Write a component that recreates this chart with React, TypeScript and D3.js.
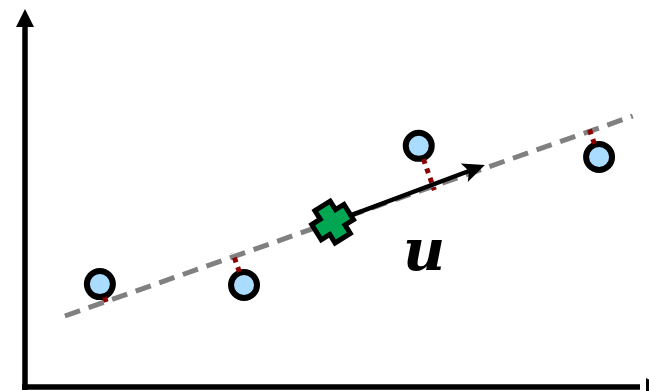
import React from "react";
import * as d3 from "d3";

const W = 649;
const H = 391;

// data points (data units)
const pointX = [1.2, 3.51, 6.31, 9.2];
const pointY = [1.66, 1.645, 3.89, 3.71];
// fitted principal line endpoints
const lineX = [0.64, 9.74];
const lineY = [1.145, 4.37];
// mean (centroid) marker
const meanXY = [4.93, 2.66];
// direction vector u tip
const uTip = [7.37, 3.58];
const uLabel = "u";

export default function App() {
  const x = d3.scaleLinear().domain([0, 10]).range([25, 649]);
  const y = d3.scaleLinear().domain([0, 6]).range([387, 15]);

  const lx0 = x(lineX[0]), ly0 = y(lineY[0]);
  const lx1 = x(lineX[1]), ly1 = y(lineY[1]);
  const dx = lx1 - lx0, dy = ly1 - ly0;
  const len = Math.hypot(dx, dy);
  const ux = dx / len, uy = dy / len;

  const r = 13;
  const proj = pointX.map((px, i) => {
    const cx = x(px), cy = y(pointY[i]);
    const t = (cx - lx0) * ux + (cy - ly0) * uy;
    const qx = lx0 + t * ux, qy = ly0 + t * uy;
    const vx = qx - cx, vy = qy - cy;
    const vl = Math.hypot(vx, vy);
    const nx = vx / vl, ny = vy / vl;
    return {
      cx, cy,
      x1: cx + nx * (r + 1), y1: cy + ny * (r + 1),
      x2: qx + nx * 4, y2: qy + ny * 4,
    };
  });

  const mx = x(meanXY[0]), my = y(meanXY[1]);
  const tx = x(uTip[0]), ty = y(uTip[1]);
  const ad = Math.hypot(tx - mx, ty - my);
  const ax = (tx - mx) / ad, ay = (ty - my) / ad;
  const headL = 22, headW = 10;
  const bx = tx - ax * headL, by = ty - ay * headL;
  const nx2 = bx + ax * 5, ny2 = by + ay * 5;
  const head = `M${tx},${ty}L${bx - ay * headW},${by + ax * headW}L${nx2},${ny2}L${bx + ay * headW},${by - ax * headW}Z`;

  // chunky plus shape
  const a = 19, b = 9;
  const plus = d3.path();
  const pts: [number, number][] = [
    [-b, -a], [b, -a], [b, -b], [a, -b], [a, b], [b, b],
    [b, a], [-b, a], [-b, b], [-a, b], [-a, -b], [-b, -b],
  ];
  pts.forEach((p, i) => (i === 0 ? plus.moveTo(p[0], p[1]) : plus.lineTo(p[0], p[1])));
  plus.closePath();

  const axX = x(0); // 25
  const axY = y(0); // 387

  return (
    <svg width={W} height={H} style={{ position: "absolute", left: 0, top: 0, background: "#fff" }}>
      {/* axes */}
      <line x1={axX} y1={axY + 3} x2={axX} y2={26} stroke="#000" strokeWidth={5.5} />
      <path d={`M${axX},9L${axX - 9},27L${axX + 9},27Z`} fill="#000" />
      <line x1={axX - 3} y1={axY} x2={640} y2={axY} stroke="#000" strokeWidth={5.5} />
      <path d={`M${664},${axY}L${646},${axY - 9}L${646},${axY + 9}Z`} fill="#000" />

      {/* principal line */}
      <line x1={lx0} y1={ly0} x2={lx1} y2={ly1} stroke="#808080" strokeWidth={5} strokeDasharray="16,9" />

      {/* points */}
      {proj.map((p, i) => (
        <circle key={i} cx={p.cx} cy={p.cy} r={r} fill="#aadcff" stroke="#000" strokeWidth={6} />
      ))}

      {/* projection residuals */}
      {proj.map((p, i) => (
        <line key={"r" + i} x1={p.x1} y1={p.y1} x2={p.x2} y2={p.y2} stroke="#8b0000" strokeWidth={5} strokeDasharray="5,5" />
      ))}

      {/* arrow u */}
      <line x1={mx} y1={my} x2={nx2} y2={ny2} stroke="#000" strokeWidth={4.5} />
      <path d={head} fill="#000" />

      {/* mean marker */}
      <path d={plus.toString()} transform={`translate(${mx},${my}) rotate(-32)`} fill="#00a651" stroke="#000" strokeWidth={5} strokeLinejoin="miter" />

      <text x={424} y={270} textAnchor="middle" fontFamily="DejaVu Serif" fontWeight="bold" fontStyle="italic" fontSize={58} fill="#000">{uLabel}</text>
    </svg>
  );
}
